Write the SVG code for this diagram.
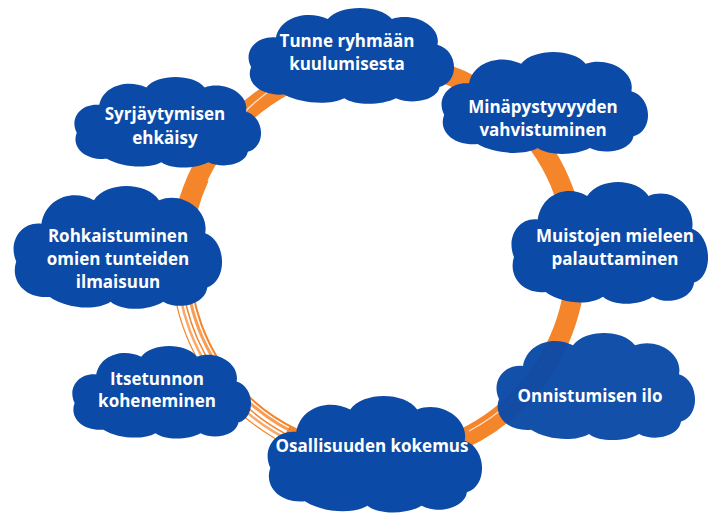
<svg xmlns="http://www.w3.org/2000/svg" xmlns:xlink="http://www.w3.org/1999/xlink" width="708" height="513" viewBox="0 0 708 513">
<defs>
<path id="cloud" d="M 36,94 C 12,96 -2,80 4,64 C -4,48 8,30 28,32 C 32,10 58,2 78,12 C 90,-4 128,-4 140,12 C 162,4 188,20 184,40 C 204,46 206,80 186,86 C 184,100 160,106 144,98 C 130,106 104,106 94,98 C 80,106 52,104 36,94 Z"/>
<style>
.cl{fill:#0B4AA6;}
.tx{font-family:"Open Sans","Liberation Sans",sans-serif;font-weight:bold;font-size:17px;fill:#ffffff;text-anchor:middle;}
.ring{fill:none;stroke:#F5852A;stroke-width:20;}
.st{fill:none;stroke:#F5852A;}
.wh{fill:none;stroke:#ffffff;stroke-opacity:0.75;}
</style>
</defs>
<rect width="708" height="513" fill="#ffffff"/>
<g id="connectors">
<path class="ring" d="M 186.7,208.8 A 198 198 0 1 1 285,434.8"/>
<path class="st" stroke-width="2" d="M 298.6,430.4 A 188 188 0 0 1 207.6,180.6"/>
<path class="st" stroke-width="3" stroke-opacity="0.8" d="M 306.1,438 A 192 192 0 0 1 197.6,194.3"/>
<path class="st" stroke-width="1.5" d="M 285.5,433.9 A 197 197 0 0 1 187.7,209"/>
<path class="st" stroke-width="2.5" stroke-opacity="0.7" d="M 296.3,443.6 A 201 201 0 0 1 195.8,175.1"/>
<path class="st" stroke-width="1.2" d="M 275,438.4 A 206 206 0 0 1 175.1,224.2"/>
<path class="wh" stroke-width="1.3" d="M 230.5,127.5 A 203 203 0 0 1 308.6,69.2"/>
<path class="wh" stroke-width="1.3" d="M 546,357 A 194 194 0 0 1 469,431"/>
</g>
<g id="n1"><use xlink:href="#cloud" class="cl" transform="translate(247,8) scale(1.035,0.92)"/><text class="tx" x="347" y="47">Tunne ryhmään</text><text class="tx" x="347" y="70">kuulumisesta</text></g>
<g id="n2"><use xlink:href="#cloud" class="cl" transform="translate(440,52) scale(1.04,0.98)"/><text class="tx" x="543" y="113">Minäpystyvyyden</text><text class="tx" x="543" y="136">vahvistuminen</text></g>
<g id="n3"><use xlink:href="#cloud" class="cl" transform="translate(73,77) scale(0.94,0.87)"/><text class="tx" x="165" y="120">Syrjäytymisen</text><text class="tx" x="165" y="144">ehkäisy</text></g>
<g id="n4"><use xlink:href="#cloud" class="cl" transform="translate(12,186) scale(1.05,1.18)"/><text class="tx" x="118" y="242">Rohkaistuminen</text><text class="tx" x="118" y="265">omien tunteiden</text><text class="tx" x="118" y="288">ilmaisuun</text></g>
<g id="n5"><use xlink:href="#cloud" class="cl" transform="translate(510,182) scale(0.99,1.17)"/><text class="tx" x="615" y="242">Muistojen mieleen</text><text class="tx" x="615" y="265">palauttaminen</text></g>
<g id="n6"><use xlink:href="#cloud" class="cl" style="fill-opacity:0.97" transform="translate(495,333) scale(1,1.03)"/><text class="tx" x="590" y="402">Onnistumisen ilo</text></g>
<g id="n7"><use xlink:href="#cloud" class="cl" transform="translate(71,346) scale(0.9,0.89)"/><text class="tx" x="157" y="385">Itsetunnon</text><text class="tx" x="157" y="407">koheneminen</text></g>
<g id="n8"><use xlink:href="#cloud" class="cl" transform="translate(266,396) scale(1.08,1.12)"/><text class="tx" x="372" y="452">Osallisuuden kokemus</text></g>
</svg>
